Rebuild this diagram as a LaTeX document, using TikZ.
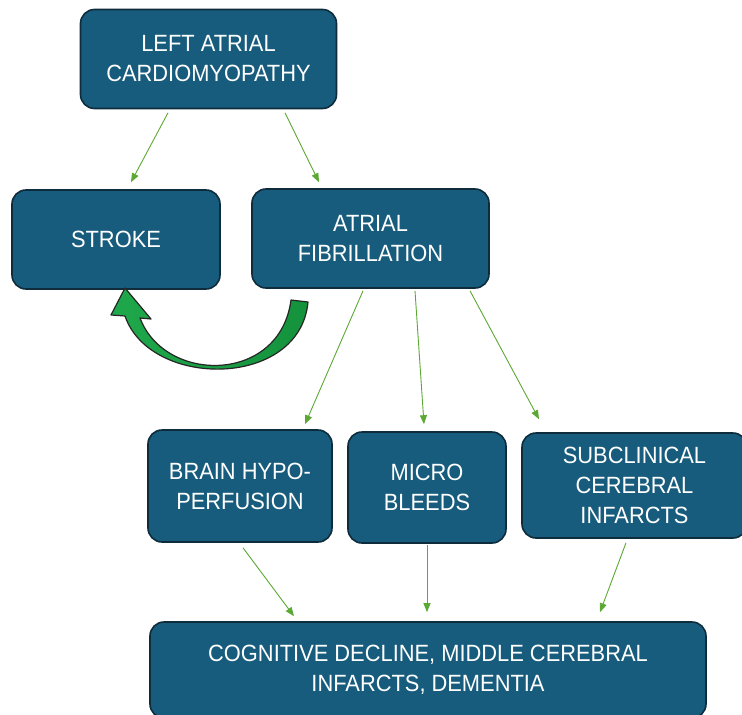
\documentclass[tikz,border=0pt]{standalone}
\usepackage{fontspec}
\setmainfont[FakeStretch=0.93]{Liberation Sans}
\usetikzlibrary{arrows.meta}
\definecolor{boxfill}{HTML}{175C7D}
\definecolor{boxline}{HTML}{0E2C3C}
\definecolor{arrgreen}{HTML}{5CA834}
\definecolor{bigarrow}{HTML}{1FA84B}
\definecolor{bigarrowdark}{HTML}{14923C}
\begin{document}
\begin{tikzpicture}[x=1pt,y=-1pt,
  box/.style={draw=boxline, line width=1.6pt, fill=boxfill, rounded corners=14pt,
    text=white, align=center, inner sep=0pt,
    font=\fontsize{23.5}{30}\selectfont},
  conn/.style={draw=arrgreen, line width=0.9pt, -{Triangle[length=9pt,width=7pt]}}]
\useasboundingbox (0,0) rectangle (742,715);
\clip (0,0) rectangle (742,715);

\node[box, minimum width=256pt, minimum height=99pt] (top) at (208.5,59) {LEFT ATRIAL\\CARDIOMYOPATHY};
\node[box, minimum width=208pt, minimum height=99pt] (stroke) at (116,239.5) {STROKE};
\node[box, minimum width=237pt, minimum height=99pt] (af) at (370.5,238.5) {ATRIAL\\FIBRILLATION};
\node[box, minimum width=184pt, minimum height=112pt] (brain) at (240,486) {BRAIN HYPO-\\PERFUSION};
\node[box, minimum width=158pt, minimum height=111pt] (micro) at (427,487.5) {MICRO\\BLEEDS};
\node[box, minimum width=225pt, minimum height=105pt] (sub) at (634.5,485.5) {SUBCLINICAL\\CEREBRAL\\INFARCTS};
\node[box, minimum width=556pt, minimum height=96pt] (bottom) at (428,670) {COGNITIVE DECLINE, MIDDLE CEREBRAL\\INFARCTS, DEMENTIA};

\draw[conn] ([xshift=-40.5pt,yshift=-3.5pt]top.south) -- ([xshift=15pt,yshift=7pt]stroke.north);
\draw[conn] ([xshift=76.5pt,yshift=-3.5pt]top.south) -- ([xshift=-51.5pt,yshift=6pt]af.north);
\draw[conn] ([xshift=-7.5pt,yshift=-2pt]af.south) -- ([xshift=65pt,yshift=5pt]brain.north);
\draw[conn] ([xshift=44.5pt,yshift=-2pt]af.south) -- ([xshift=-3pt,yshift=7pt]micro.north);
\draw[conn] ([xshift=99.5pt,yshift=-2pt]af.south) -- ([xshift=-95.5pt,yshift=13pt]sub.north);
\draw[conn] ([xshift=3pt,yshift=-5pt]brain.south) -- ([xshift=-134pt,yshift=5pt]bottom.north);
\draw[conn] ([yshift=-1pt]micro.south) -- ([xshift=-1pt,yshift=9pt]bottom.north);
\draw[conn] ([xshift=-8.5pt,yshift=-4pt]sub.south) -- ([xshift=172pt,yshift=9pt]bottom.north);

% curved block arrow from atrial fibrillation back to stroke
\path[draw=black!85, line width=1.2pt, line join=round, left color=bigarrow, right color=bigarrowdark]
  (125,288) -- (151,319) -- (140,318)
  .. controls (165,384) and (280,384) .. (291,300)
  -- (308,302)
  .. controls (300,389) and (150,389) .. (125,316)
  -- (111,315) -- cycle;
\end{tikzpicture}
\end{document}
